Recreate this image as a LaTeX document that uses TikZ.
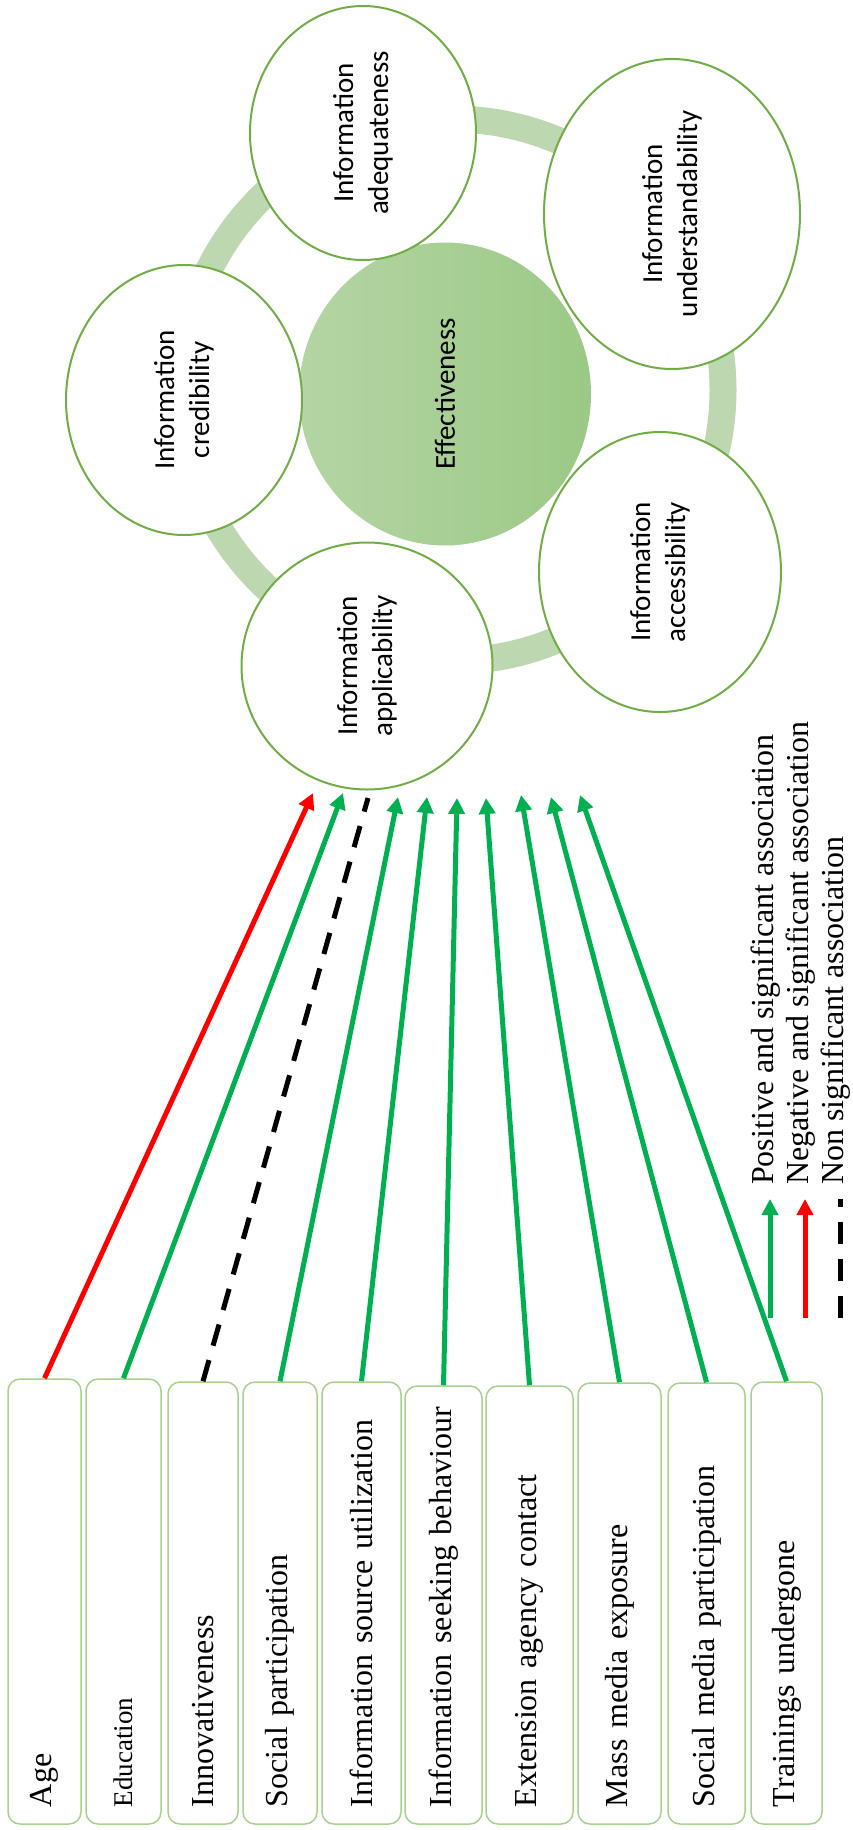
\documentclass[tikz,border=0pt]{standalone}
\usepackage{fontspec}
\setmainfont{Liberation Serif}
\newfontfamily\carlito{Carlito}
\usetikzlibrary{arrows.meta,shapes.geometric}

\definecolor{posgreen}{HTML}{00B050}
\definecolor{negred}{HTML}{FF0000}
\definecolor{rimgreen}{HTML}{70AD47}
\definecolor{boxgreen}{HTML}{A9D18E}
\definecolor{ringgreen}{HTML}{BDD7B0}
\definecolor{effleft}{HTML}{B4D5A4}
\definecolor{effright}{HTML}{9CC986}

\tikzset{
  varbox/.style={draw=boxgreen, line width=1.5pt, rounded corners=12pt, rotate=90, align=left,
    inner xsep=17pt, inner ysep=0pt, font=\fontsize{32}{36}\selectfont},
  factor/.style={ellipse, draw=rimgreen, line width=2pt, fill=white, rotate=90, align=center,
    inner sep=0pt, font=\carlito\fontsize{29}{35}\selectfont},
  posarrow/.style={posgreen, line width=5pt, -{Triangle[width=16pt,length=16pt]}},
  negarrow/.style={negred, line width=5pt, -{Triangle[width=16pt,length=16pt]}},
  nonsigline/.style={black, line width=5pt, dash pattern=on 22pt off 15pt},
  legtext/.style={rotate=90, anchor=base west, inner sep=0pt, font=\fontsize{32}{36}\selectfont}
}

\begin{document}
\begin{tikzpicture}[x=1pt, y=-1pt]
  \useasboundingbox (0,0) rectangle (853,1830);
  % ring behind the factors
  \draw[ringgreen, line width=27pt] (452,390) circle (271pt);
  % central circle
  \node[ellipse, rotate=90, inner sep=0pt, minimum width=303pt, minimum height=292pt,
    left color=effleft, right color=effright, font=\carlito\fontsize{29}{35}\selectfont]
    (eff) at (445,394) {Effectiveness};
  % information factors
  \node[factor, minimum width=254pt, minimum height=226pt] (ade) at (363,133) {Information\\adequateness};
  \node[factor, minimum width=310pt, minimum height=256pt] (und) at (672,214) {Information\\understandability};
  \node[factor, minimum width=270pt, minimum height=236pt] (cre) at (184,400) {Information\\credibility};
  \node[factor, minimum width=280pt, minimum height=242pt] (acc) at (660,572) {Information\\accessibility};
  \node[factor, minimum width=247pt, minimum height=251pt] (app) at (367,666) {Information\\applicability};
  % variable boxes
  \foreach \nm/\cx/\tp/\bw/\txt in {
    age/44.5/1379/73/Age,
    edu/123.5/1379/75/{\fontsize{27}{30}\selectfont Education},
    innov/203/1382/70/Innovativeness,
    social/280/1382/74/Social participation,
    source/361.5/1382/79/Information source utilization,
    seeking/443.5/1386/77/Information seeking behaviour,
    ext/529.5/1386/87/Extension agency contact,
    mass/619.5/1383/83/Mass media exposure,
    socmed/706.5/1383/77/Social media participation,
    train/786.5/1382/71/Trainings undergone} {
    \pgfmathsetmacro{\blen}{1824-\tp}
    \pgfmathsetmacro{\btw}{1824-\tp-34}
    \pgfmathsetmacro{\bcy}{(1824+\tp)/2}
    \node[varbox, minimum width=\blen pt, minimum height=\bw pt, text width=\btw pt] (\nm) at (\cx,\bcy) {\txt};
  }
  % associations
  \foreach \nm/\tx/\ty/\sty in {
    age/313/793/negarrow, edu/343/793/posarrow, innov/368/798/nonsigline, social/398/797/posarrow,
    source/427/797/posarrow, seeking/457/798/posarrow, ext/486/798/posarrow, mass/521/795/posarrow,
    socmed/551/797/posarrow, train/580/795/posarrow} {
    \coordinate (tip\nm) at (\tx,\ty);
    \draw[\sty] (\nm.east) -- (tip\nm);
  }
  % legend
  \foreach \nm/\lx/\sty/\txt in {
    lgpos/770/posarrow/Positive and significant association,
    lgneg/805/negarrow/Negative and significant association,
    lgnon/840/nonsigline/Non significant association} {
    \coordinate (\nm a) at (\lx,1318);
    \coordinate (\nm b) at (\lx,1199);
    \draw[\sty] (\nm a) -- (\nm b);
    \node[legtext] (\nm text) at (\lx+3,1185) {\txt};
  }
\end{tikzpicture}
\end{document}
